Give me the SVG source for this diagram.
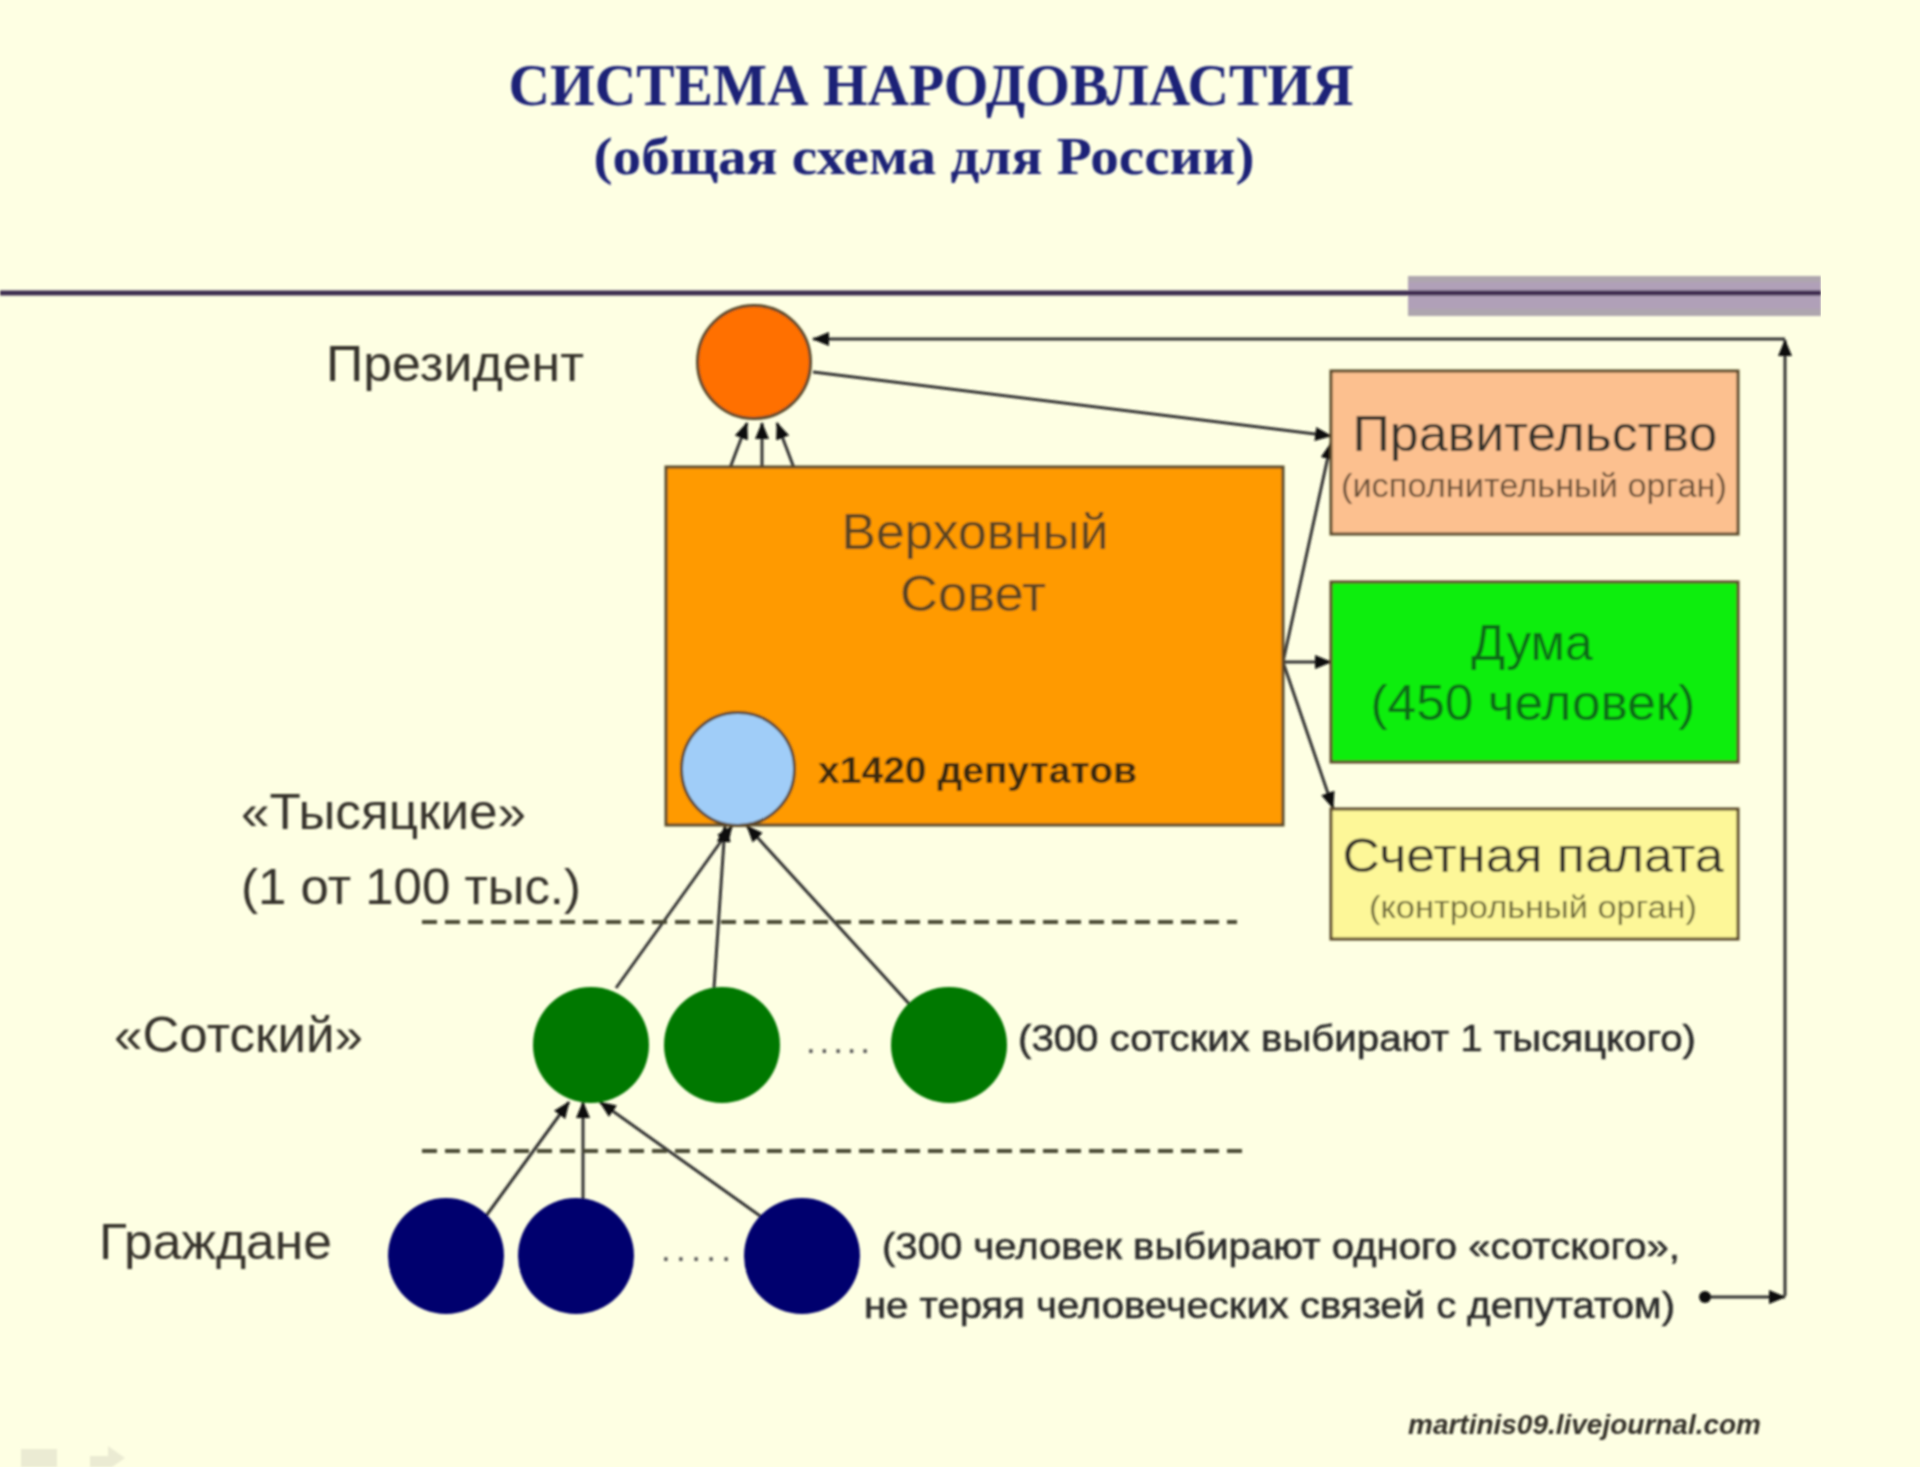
<svg xmlns="http://www.w3.org/2000/svg" width="1920" height="1467" viewBox="0 0 1920 1467">
<defs>
<marker id="ah" markerUnits="userSpaceOnUse" markerWidth="18" markerHeight="16" refX="16" refY="8" orient="auto"><path d="M0 1L17 8L0 15Z" fill="#111"/></marker>
<filter id="soft" x="0" y="0" width="100%" height="100%"><feGaussianBlur stdDeviation="0.8"/></filter>
</defs>
<style>
text{font-family:"Liberation Sans",Arial,sans-serif;fill:#36322c}
.t{font-family:"Liberation Serif","Times New Roman",serif;font-weight:700;fill:#1b2277}
.c{text-anchor:middle}
.n{stroke:#5b4a2a;stroke-width:3}
.l{fill:none;stroke:#333;stroke-width:3;marker-end:url(#ah)}
.d{fill:none;stroke:#4a4a34;stroke-width:4;stroke-dasharray:15 8}
.note{font-size:37px;fill:#2a2a2a;stroke:#2a2a2a;stroke-width:.5}
</style>
<rect width="1920" height="1467" fill="#feffe3"/>
<g filter="url(#soft)">
<g id="decor">
<rect x="1408" y="276" width="413" height="40" fill="#aea6ae"/>
<rect x="1408" y="282" width="413" height="27" fill="#b0a0b8"/>
<rect x="0" y="290.500" width="1821" height="5" fill="#3c2a50"/>
<rect x="21" y="1449" width="36" height="18" fill="#ebebd3"/>
<path d="M90 1456H108V1446L125 1458L112 1467H90Z" fill="#ebebd3"/>
</g>
<g id="title">
<text class="t" text-anchor="middle" x="931" y="105" font-size="60" textLength="845" lengthAdjust="spacingAndGlyphs">СИСТЕМА НАРОДОВЛАСТИЯ</text>
<text class="t" text-anchor="middle" x="924" y="174" font-size="52" textLength="661" lengthAdjust="spacingAndGlyphs">(общая схема для России)</text>
</g>
<g id="connectors">
<path class="l" d="M1785 1296V340"/>
<path class="l" d="M1785 339H813"/>
<path class="l" d="M1705 1297H1785"/>
<path class="l" d="M813 372L1331 436"/>
<path class="l" d="M730 468L747 423"/>
<path class="l" d="M762 468V423"/>
<path class="l" d="M794 468L777 423"/>
<path class="l" d="M1283 662L1331 443"/>
<path class="l" d="M1283 662H1331"/>
<path class="l" d="M1283 662L1333 808"/>
<path class="l" d="M616 988L732 826"/>
<path class="l" d="M714 988L725 826"/>
<path class="l" d="M912 1007L747 826"/>
<path class="l" d="M486 1216L569 1102"/>
<path class="l" d="M583 1199V1102"/>
<path class="l" d="M763 1218L600 1102"/>
<circle cx="1705" cy="1297" r="6" fill="#111"/>
<path class="d" d="M422 922H1237"/>
<path class="d" d="M422 1151H1250"/>
</g>
<g id="president">
<text x="326" y="381" font-size="50" textLength="258" lengthAdjust="spacingAndGlyphs">Президент</text>
<circle class="n" cx="754" cy="362" r="56.500" fill="#ff6f00" stroke="#a85a10"/>
</g>
<g id="supreme-council">
<rect class="n" x="666" y="467" width="617" height="358" fill="#ff9a00" stroke="#8a6a20"/>
<text class="c" x="975" y="549" font-size="50" textLength="267" lengthAdjust="spacingAndGlyphs" style="fill:#5a4420">Верховный</text>
<text class="c" x="973" y="611" font-size="50" textLength="146" lengthAdjust="spacingAndGlyphs" style="fill:#5a4420">Совет</text>
<circle class="n" cx="738" cy="769" r="56.500" fill="#a0cdf8" stroke="#7c6a30"/>
<text x="818" y="783" font-size="37" font-weight="700" textLength="319" lengthAdjust="spacingAndGlyphs" style="fill:#3a2a10">х1420 депутатов</text>
</g>
<g id="government">
<rect class="n" x="1331" y="371" width="407" height="163" fill="#fcc08f"/>
<text class="c" x="1535" y="451" font-size="50" textLength="365" lengthAdjust="spacingAndGlyphs">Правительство</text>
<text class="c" x="1534" y="497" font-size="33" textLength="386" lengthAdjust="spacingAndGlyphs" style="fill:#6a5038">(исполнительный орган)</text>
</g>
<g id="duma">
<rect class="n" x="1331" y="582" width="407" height="180" fill="#10ee10" stroke="#2a7a2a"/>
<text class="c" x="1532" y="660" font-size="50" style="fill:#0f6a14">Дума</text>
<text class="c" x="1533" y="720" font-size="50" textLength="325" lengthAdjust="spacingAndGlyphs" style="fill:#0f6a14">(450 человек)</text>
</g>
<g id="audit">
<rect class="n" x="1331" y="809" width="407" height="130" fill="#fdf798" stroke="#6a6440"/>
<text class="c" x="1533" y="872" font-size="49" textLength="381" lengthAdjust="spacingAndGlyphs">Счетная палата</text>
<text class="c" x="1533" y="918" font-size="31" textLength="328" lengthAdjust="spacingAndGlyphs" style="fill:#6e6a3a">(контрольный орган)</text>
</g>
<g id="thousand-label">
<text x="241" y="829" font-size="50" textLength="285" lengthAdjust="spacingAndGlyphs">«Тысяцкие»</text>
<text x="241" y="904" font-size="50" textLength="340" lengthAdjust="spacingAndGlyphs">(1 от 100 тыс.)</text>
</g>
<g id="sotsky">
<text x="114" y="1052" font-size="50" textLength="249" lengthAdjust="spacingAndGlyphs">«Сотский»</text>
<circle cx="591" cy="1045" r="58" fill="#067806"/>
<circle cx="722" cy="1045" r="58" fill="#067806"/>
<text x="806" y="1053" font-size="35" textLength="64" lengthAdjust="spacing" style="fill:#555">.....</text>
<circle cx="949" cy="1045" r="58" fill="#067806"/>
<text class="note" x="1018" y="1051" textLength="678" lengthAdjust="spacingAndGlyphs">(300 сотских выбирают 1 тысяцкого)</text>
</g>
<g id="citizens">
<text x="99" y="1259" font-size="50" textLength="233" lengthAdjust="spacingAndGlyphs">Граждане</text>
<circle cx="446" cy="1256" r="58" fill="#05056e"/>
<circle cx="576" cy="1256" r="58" fill="#05056e"/>
<text x="661" y="1261" font-size="35" textLength="70" lengthAdjust="spacing" style="fill:#555">.....</text>
<circle cx="802" cy="1256" r="58" fill="#05056e"/>
<text class="note" x="882" y="1259" textLength="798" lengthAdjust="spacingAndGlyphs">(300 человек выбирают одного «сотского»,</text>
<text class="note" x="864" y="1318" textLength="811" lengthAdjust="spacingAndGlyphs">не теряя человеческих связей с депутатом)</text>
</g>
<g id="credit">
<text x="1408" y="1434" font-size="27" font-weight="700" font-style="italic" textLength="353" lengthAdjust="spacingAndGlyphs">martinis09.livejournal.com</text>
</g>
</g>
</svg>
